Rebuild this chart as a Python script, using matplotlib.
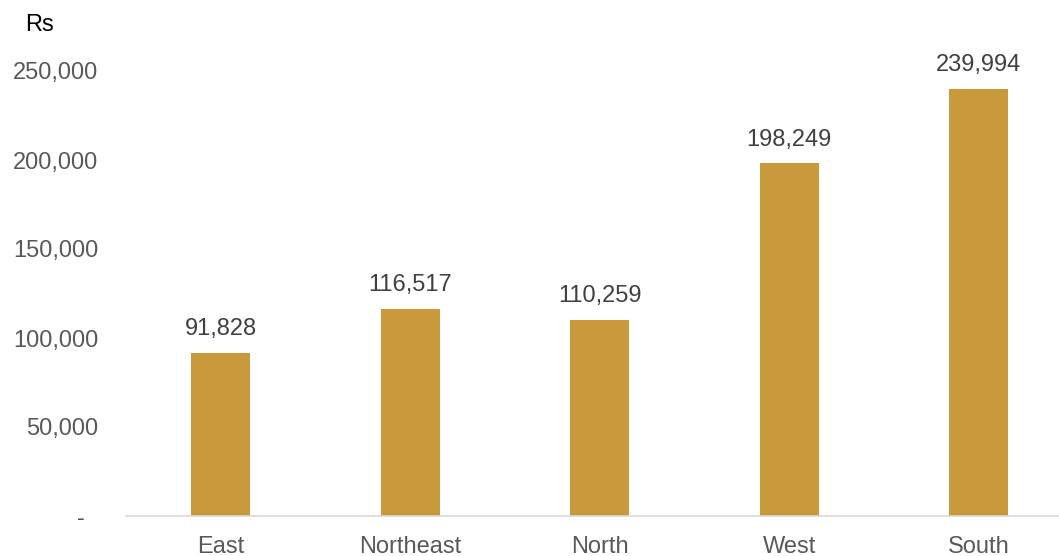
import matplotlib.pyplot as plt
from matplotlib.transforms import ScaledTranslation

regions = ["East", "Northeast", "North", "West", "South"]
values = [91828, 116517, 110259, 198249, 239994]
value_labels = ["91,828", "116,517", "110,259", "198,249", "239,994"]
y_ticks = [0, 50000, 100000, 150000, 200000, 250000]
y_tick_labels = ["-", "50,000", "100,000", "150,000", "200,000", "250,000"]
unit_label = "Rs"

plt.rcParams["font.family"] = ["Liberation Sans", "DejaVu Sans"]

W, H = 1059, 556
fig = plt.figure(figsize=(W / 100, H / 100), dpi=100)
ax = fig.add_axes([126 / W, 40 / H, 947.5 / W, 445 / H])

bars = ax.bar(range(len(regions)), values, width=0.31, color="#C99A3B")
for bar, lab in zip(bars, value_labels):
    ax.annotate(lab, (bar.get_x() + bar.get_width() / 2, bar.get_height()),
                xytext=(0, 9), textcoords="offset points",
                ha="center", va="bottom", fontsize=17, color="#404040",
                annotation_clip=False)

ax.set_xlim(-0.5, len(regions) - 0.5)
ax.set_ylim(0, 250000)
ax.set_xticks(range(len(regions)))
ax.set_xticklabels(regions)
ax.set_yticks(y_ticks)
ax.set_yticklabels(y_tick_labels)
ax.tick_params(axis="x", length=0, pad=14.5, labelsize=17, labelcolor="#595959")
ax.tick_params(axis="y", length=0, pad=20, labelsize=17, labelcolor="#595959")

for s in ["top", "right", "left"]:
    ax.spines[s].set_visible(False)
ax.spines["bottom"].set_color("#D9D9D9")
ax.spines["bottom"].set_linewidth(1.2)

# the zero label sits further left in the original
zero_tick = ax.yaxis.get_major_ticks()[0]
zero_tick.label1.set_transform(
    zero_tick.label1.get_transform() + ScaledTranslation(-9.5 / 72, 0, fig.dpi_scale_trans))

fig.text(25 / W, 1 - 25 / H, unit_label, fontsize=17, color="black", va="center", ha="left")

fig.savefig("out.png", dpi=100)
